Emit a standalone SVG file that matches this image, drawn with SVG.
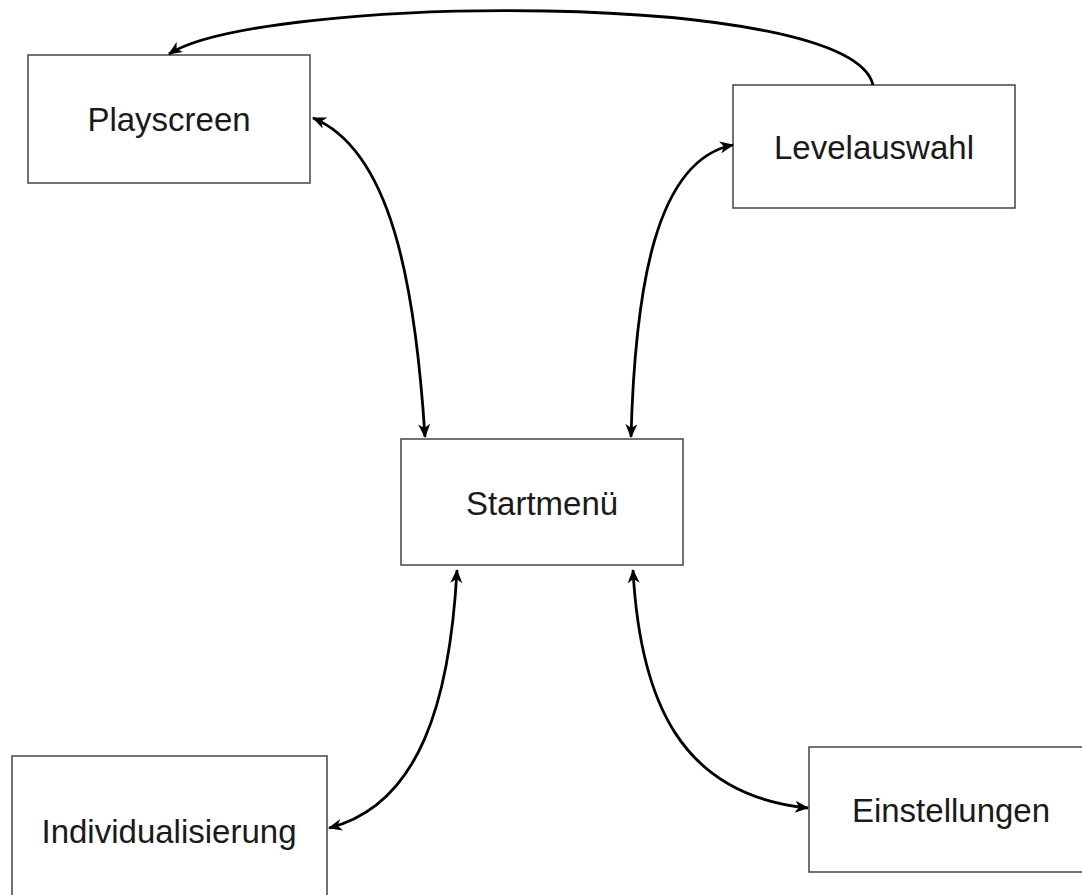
<svg xmlns="http://www.w3.org/2000/svg" width="1082" height="895" viewBox="0 0 1082 895">
<style>
.box{fill:#fff;stroke:#444;stroke-width:1.5}
.lbl{font-family:"Liberation Sans",Arial,sans-serif;font-size:33px;fill:#1a1a1a;text-anchor:middle}
.con{fill:none;stroke:#000;stroke-width:2.8}
</style>
<defs>
<marker id="ah" viewBox="0 0 14 12" refX="13" refY="6" markerWidth="14" markerHeight="12" markerUnits="userSpaceOnUse" orient="auto-start-reverse">
<path d="M0,0 L14,6 L0,12 L4,6 z" fill="#000"/>
</marker>
</defs>
<rect width="1082" height="895" fill="#fff"/>
<g id="playscreen"><rect class="box" x="28" y="55" width="282" height="128"/><text class="lbl" x="169" y="131">Playscreen</text></g>
<g id="levelauswahl"><rect class="box" x="733" y="85" width="282" height="123"/><text class="lbl" x="874" y="159">Levelauswahl</text></g>
<g id="startmenu"><rect class="box" x="401" y="439" width="282" height="126"/><text class="lbl" x="542" y="515">Startmenü</text></g>
<g id="individualisierung"><rect class="box" x="12" y="756" width="315" height="150"/><text class="lbl" x="169" y="843">Individualisierung</text></g>
<g id="einstellungen"><rect class="box" x="809" y="747" width="283" height="125"/><text class="lbl" x="951" y="822">Einstellungen</text></g>
<g id="connectors">
<path class="con" d="M873,85 C850,-12 260,-5 169,54" marker-end="url(#ah)"/>
<path class="con" d="M313,118 C390,150 415,280 425,437" marker-start="url(#ah)" marker-end="url(#ah)"/>
<path class="con" d="M733,145 C655,160 635,290 631,437" marker-start="url(#ah)" marker-end="url(#ah)"/>
<path class="con" d="M457,570 C450,700 420,805 329,828" marker-start="url(#ah)" marker-end="url(#ah)"/>
<path class="con" d="M633,570 C640,700 680,795 808,808" marker-start="url(#ah)" marker-end="url(#ah)"/>
</g>
</svg>
